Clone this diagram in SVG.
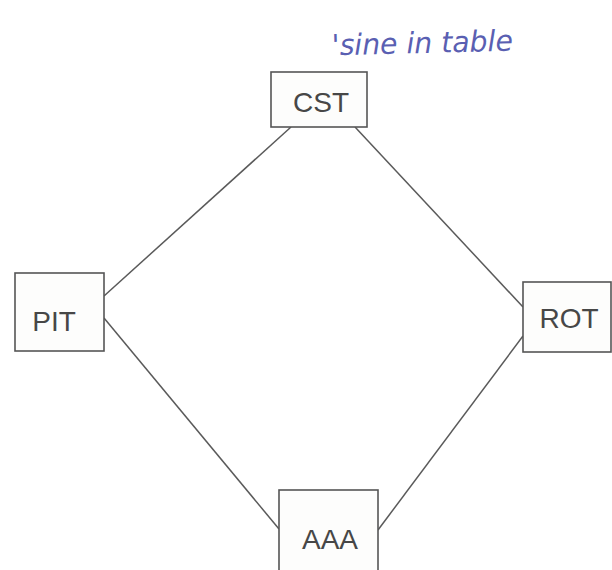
<svg xmlns="http://www.w3.org/2000/svg" width="612" height="570" viewBox="0 0 612 570">
  <style>
    .box { fill: #fdfdfc; stroke: #555; stroke-width: 1.6; }
    .lbl { font-family: "Liberation Sans", Arial, sans-serif; font-size: 28px; fill: #474747; text-anchor: middle; }
    .edge { stroke: #5a5a5a; stroke-width: 1.5; fill: none; }
    .note { font-family: "DejaVu Sans", "Liberation Sans", sans-serif; font-style: italic; font-weight: 200; font-size: 29px; fill: #5a5fb2; }
  </style>
  <rect width="612" height="570" fill="#ffffff"/>

  <!-- handwritten remark -->
  <text class="note" x="332" y="53" textLength="181" lengthAdjust="spacingAndGlyphs" transform="rotate(-1.5 420 50)">'sine in table</text>

  <!-- connectors -->
  <g id="edges">
    <line class="edge" x1="291" y1="127" x2="104" y2="296"/>
    <line class="edge" x1="355" y1="127" x2="523" y2="307"/>
    <line class="edge" x1="104" y1="318" x2="279" y2="529"/>
    <line class="edge" x1="378" y1="530" x2="523" y2="336"/>
  </g>

  <g id="CST">
    <rect class="box" x="271" y="72" width="96" height="55"/>
    <text class="lbl" x="321" y="112">CST</text>
  </g>
  <g id="PIT">
    <rect class="box" x="15" y="273" width="89" height="78"/>
    <text class="lbl" x="54" y="331">PIT</text>
  </g>
  <g id="ROT">
    <rect class="box" x="523" y="282" width="88" height="70"/>
    <text class="lbl" x="569" y="328">ROT</text>
  </g>
  <g id="AAA">
    <rect class="box" x="279" y="490" width="99" height="90"/>
    <text class="lbl" x="330" y="549">AAA</text>
  </g>
</svg>
